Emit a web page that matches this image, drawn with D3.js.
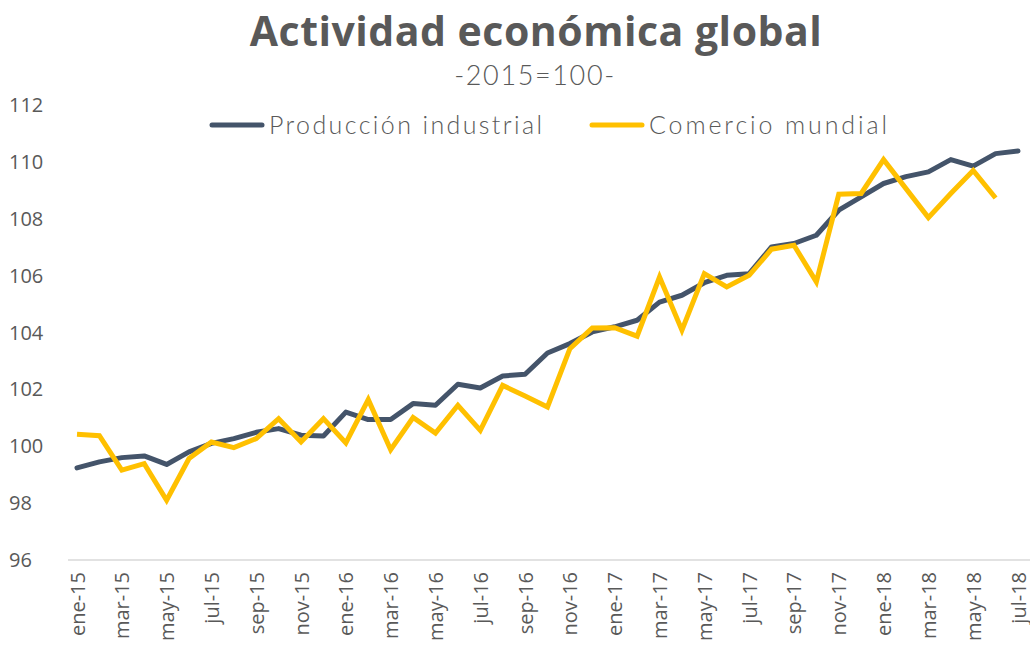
<!DOCTYPE html>
<html>
<head>
<meta charset="utf-8">
<script src="https://cdn.jsdelivr.net/npm/d3@7"></script>
<style>
  body { margin: 0; background: #fff; }
  text { font-family: Lato, "Open Sans", sans-serif; fill: #595959; }
  .tick text { font-family: "Open Sans", "Liberation Sans", sans-serif; }
</style>
</head>
<body>
<div id="chart"></div>
<script>
const monthNames = ["ene", "feb", "mar", "abr", "may", "jun", "jul", "ago", "sep", "oct", "nov", "dic"];
const years = ["15", "16", "17", "18"];

// ene-15 .. jul-18
const months = [];
years.forEach(y => monthNames.forEach(m => months.push(m + "-" + y)));
months.length = 43;

const produccion = [
  99.24, 99.45, 99.6, 99.66, 99.36, 99.8, 100.1, 100.27, 100.49, 100.62, 100.39, 100.36,
  101.2, 100.94, 100.94, 101.5, 101.44, 102.18, 102.05, 102.47, 102.53, 103.28, 103.61, 104.02,
  104.2, 104.43, 105.07, 105.31, 105.75, 106.01, 106.07, 107.01, 107.13, 107.42, 108.3, 108.77,
  109.24, 109.48, 109.65, 110.08, 109.85, 110.29, 110.38
];

const comercio = [
  100.42, 100.37, 99.16, 99.39, 98.1, 99.57, 100.15, 99.95, 100.27, 100.97, 100.15, 100.97,
  100.12, 101.64, 99.88, 101.01, 100.46, 101.44, 100.56, 102.14, 101.77, 101.38, 103.43, 104.16,
  104.17, 103.87, 105.95, 104.08, 106.07, 105.6, 106.01, 106.93, 107.07, 105.78, 108.86, 108.89,
  110.08, 109.06, 108.04, 108.89, 109.7, 108.73
];

const yTicks = [96, 98, 100, 102, 104, 106, 108, 110, 112];

const width = 1030;
const height = 646;

const svg = d3.select("#chart")
  .append("svg")
  .attr("width", width)
  .attr("height", height);

const x = d3.scalePoint()
  .domain(months)
  .range([77, 1018]);

const y = d3.scaleLinear()
  .domain([96, 112])
  .range([560, 105]);

// spread text out so it covers the same width as the original (wide font there)
function fitWidth(sel, target) {
  const len = sel.node().getComputedTextLength();
  const n = sel.text().length;
  sel.style("letter-spacing", ((target - len) / (n - 1)) + "px");
}

// title
svg.append("text")
  .attr("x", 536)
  .attr("y", 46)
  .attr("text-anchor", "middle")
  .style("font-family", "'Open Sans', sans-serif")
  .style("font-size", "41px")
  .style("font-weight", "bold")
  .text("Actividad económica global")
  .call(fitWidth, 572);

svg.append("text")
  .attr("x", 535)
  .attr("y", 85)
  .attr("text-anchor", "middle")
  .style("font-size", "27px")
  .style("font-weight", "300")
  .text("-2015=100-")
  .call(fitWidth, 160);

// y axis labels, no gridlines
svg.append("g")
  .selectAll("text")
  .data(yTicks)
  .join("text")
  .attr("class", "ylabel")
  .attr("x", 9)
  .attr("y", d => y(d))
  .attr("dy", "0.35em")
  .style("font-family", "'Open Sans', sans-serif")
  .style("font-size", "20px")
  .text(d => d);

// x axis
const xAxis = svg.append("g")
  .attr("transform", `translate(0,${y(96)})`)
  .call(d3.axisBottom(x)
    .tickValues(months.filter((d, i) => i % 2 === 0))
    .tickSize(0)
    .tickPadding(0));

xAxis.select(".domain")
  .attr("d", `M68,0H1030`)
  .attr("stroke", "#d9d9d9")
  .attr("stroke-width", 1.5);

xAxis.selectAll(".tick text")
  .attr("transform", "rotate(-90)")
  .attr("text-anchor", "end")
  .attr("x", -12)
  .attr("y", 0)
  .attr("dy", "0.35em")
  .style("font-size", "20px")
  .attr("fill", "#595959");

const line = d3.line()
  .x((d, i) => x(months[i]))
  .y(d => y(d));

svg.append("path")
  .datum(produccion)
  .attr("fill", "none")
  .attr("stroke", "#44546A")
  .attr("stroke-width", 5)
  .attr("stroke-linejoin", "round")
  .attr("stroke-linecap", "round")
  .attr("d", line);

svg.append("path")
  .datum(comercio)
  .attr("fill", "none")
  .attr("stroke", "#FFC000")
  .attr("stroke-width", 5)
  .attr("stroke-linejoin", "miter")
  .attr("d", line);

// legend
const legendItems = [
  { label: "Producción industrial", color: "#44546A", x: 212, w: 273 },
  { label: "Comercio mundial", color: "#FFC000", x: 592, w: 238 }
];

const legend = svg.append("g")
  .selectAll("g")
  .data(legendItems)
  .join("g")
  .attr("transform", d => `translate(${d.x},125)`);

legend.append("line")
  .attr("x1", 0)
  .attr("x2", 50)
  .attr("stroke", d => d.color)
  .attr("stroke-width", 5)
  .attr("stroke-linecap", "round");

legend.append("text")
  .attr("x", 57)
  .attr("dy", "0.36em")
  .style("font-size", "25px")
  .style("font-weight", "300")
  .text(d => d.label)
  .each(function(d) { d3.select(this).call(fitWidth, d.w); });
</script>
</body>
</html>
